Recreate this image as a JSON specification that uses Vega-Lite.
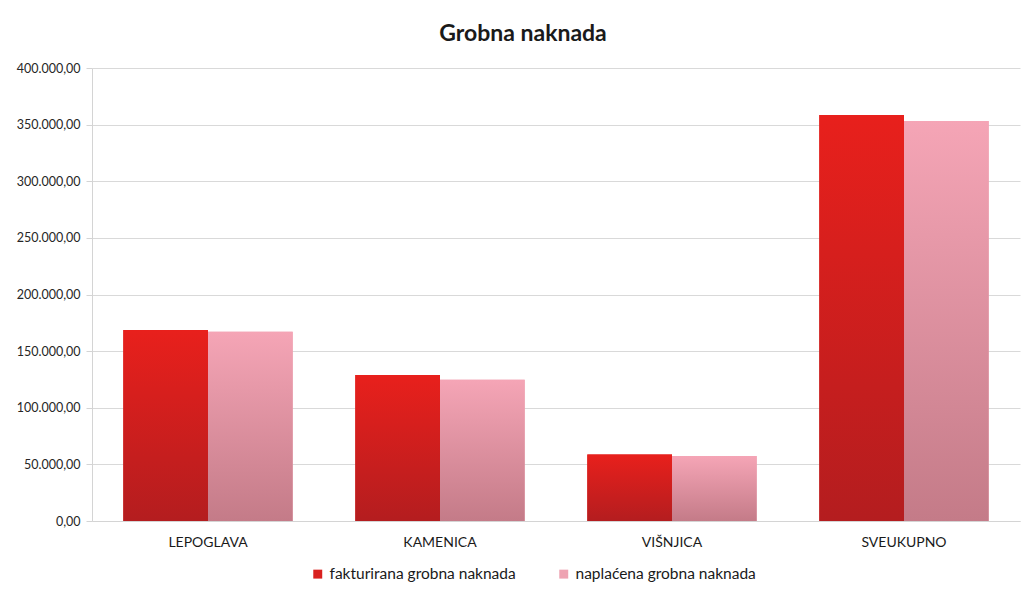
{
  "$schema": "https://vega.github.io/schema/vega-lite/v6.json",
  "width": 928,
  "height": 453,
  "autosize": {"type": "none"},
  "padding": {"left": 92, "top": 68, "right": 10, "bottom": 73},
  "background": "white",
  "config": {
    "font": "Lato",
    "view": {"stroke": null}
  },
  "title": {
    "text": "Grobna naknada",
    "fontSize": 23,
    "fontWeight": "bold",
    "color": "#1a1a1a",
    "font": "Lato",
    "anchor": "middle",
    "dx": -33,
    "offset": 16
  },
  "data": {
    "values": [
      {"mjesto": "LEPOGLAVA", "serija": "fakturirana grobna naknada", "iznos": 168600},
      {"mjesto": "LEPOGLAVA", "serija": "naplaćena grobna naknada", "iznos": 167200},
      {"mjesto": "KAMENICA", "serija": "fakturirana grobna naknada", "iznos": 128900},
      {"mjesto": "KAMENICA", "serija": "naplaćena grobna naknada", "iznos": 124800},
      {"mjesto": "VIŠNJICA", "serija": "fakturirana grobna naknada", "iznos": 58800},
      {"mjesto": "VIŠNJICA", "serija": "naplaćena grobna naknada", "iznos": 57300},
      {"mjesto": "SVEUKUPNO", "serija": "fakturirana grobna naknada", "iznos": 358600},
      {"mjesto": "SVEUKUPNO", "serija": "naplaćena grobna naknada", "iznos": 353300}
    ]
  },
  "encoding": {
    "x": {
      "field": "mjesto",
      "type": "nominal",
      "sort": ["LEPOGLAVA", "KAMENICA", "VIŠNJICA", "SVEUKUPNO"],
      "scale": {"paddingInner": 0.27, "paddingOuter": 0.135},
      "axis": {
        "title": null,
        "labelAngle": 0,
        "labelFontSize": 14,
        "labelColor": "#1a1a1a",
        "labelPadding": 14,
        "ticks": false,
        "domainColor": "#d4d4d4",
        "grid": false
      }
    },
    "xOffset": {
      "field": "serija",
      "type": "nominal",
      "sort": ["fakturirana grobna naknada", "naplaćena grobna naknada"]
    },
    "y": {
      "field": "iznos",
      "type": "quantitative",
      "scale": {"domain": [0, 400000], "nice": false},
      "axis": {
        "title": null,
        "values": [0, 50000, 100000, 150000, 200000, 250000, 300000, 350000, 400000],
        "labelExpr": "replace(replace(replace(format(datum.value, ',.2f'), ',', '_'), '.', ','), '_', '.')",
        "labelFontSize": 12.5,
        "labelColor": "#262626",
        "labelPadding": 6,
        "tickSize": 6,
        "tickColor": "#d4d4d4",
        "domain": true,
        "domainColor": "#d4d4d4",
        "gridColor": "#d9d9d9",
        "gridWidth": 1
      }
    }
  },
  "layer": [
    {
      "mark": {"type": "bar"},
      "encoding": {
        "color": {
          "field": "serija",
          "type": "nominal",
          "scale": {
            "domain": ["fakturirana grobna naknada", "naplaćena grobna naknada"],
            "range": ["#d9211f", "#eea3b2"]
          },
          "legend": {
            "title": null,
            "orient": "none",
            "direction": "horizontal",
            "legendX": 218,
            "legendY": 498,
            "symbolType": "square",
            "symbolSize": 80,
            "labelFontSize": 15.5,
            "labelLimit": 0,
            "labelColor": "#1a1a1a",
            "columnPadding": 40,
            "labelOffset": 4
          }
        }
      }
    },
    {
      "mark": {"type": "bar"},
      "encoding": {
        "color": {
          "condition": {
            "test": "datum.serija == 'fakturirana grobna naknada'",
            "value": {
              "gradient": "linear", "x1": 0, "y1": 0, "x2": 0, "y2": 1,
              "stops": [
                {"offset": 0, "color": "#e8201c"},
                {"offset": 1, "color": "#b41d1f"}
              ]
            }
          },
          "value": {
            "gradient": "linear", "x1": 0, "y1": 0, "x2": 0, "y2": 1,
            "stops": [
              {"offset": 0, "color": "#f5a5b6"},
              {"offset": 1, "color": "#c47b88"}
            ]
          }
        }
      }
    }
  ]
}
